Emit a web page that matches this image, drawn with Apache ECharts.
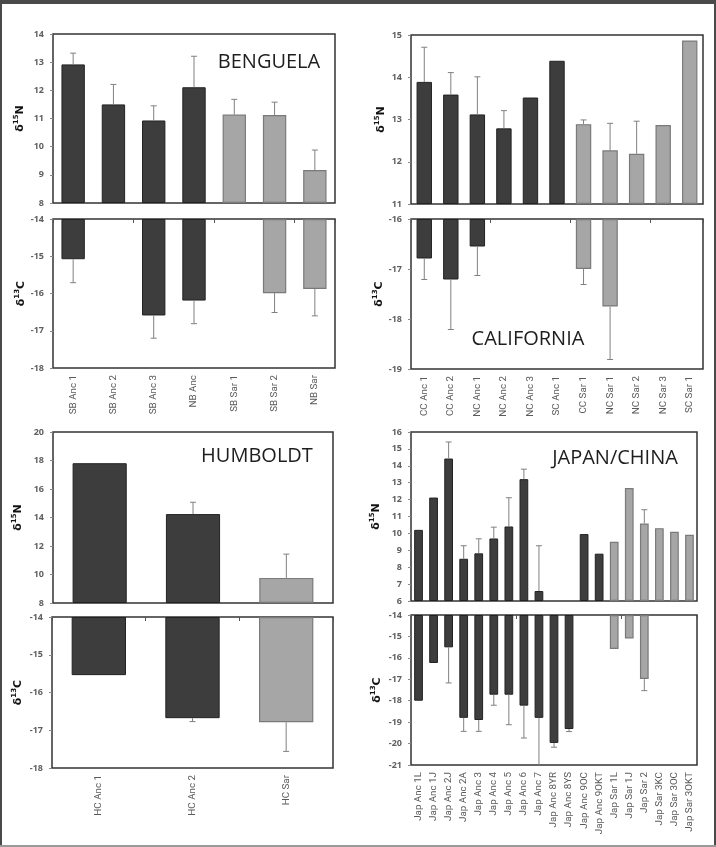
<!DOCTYPE html>
<html>
<head>
<meta charset="utf-8">
<script src="https://cdn.jsdelivr.net/npm/echarts@6/dist/echarts.min.js"></script>
<style>
  html, body { margin: 0; padding: 0; background: #ffffff; }
  #chart { width: 716px; height: 847px; }
</style>
</head>
<body>
<div id="chart"></div>
<script>
// ---- Benguela ----
const benguelaCats = ['SB Anc 1', 'SB Anc 2', 'SB Anc 3', 'NB Anc', 'SB Sar 1', 'SB Sar 2', 'NB Sar'];
const benguelaN    = [12.92, 11.50, 10.93, 12.11, 11.14, 11.12, 9.17];
const benguelaNSd  = [0.40, 0.71, 0.52, 1.10, 0.54, 0.46, 0.71];
const benguelaC    = [-15.08, null, -16.59, -16.19, null, -15.99, -15.88];
const benguelaCSd  = [0.63, null, 0.61, 0.62, null, 0.52, 0.72];

// ---- California ----
const californiaCats = ['CC Anc 1', 'CC Anc 2', 'NC Anc 1', 'NC Anc 2', 'NC Anc 3', 'SC Anc 1',
                        'CC Sar 1', 'NC Sar 1', 'NC Sar 2', 'NC Sar 3', 'SC Sar 1'];
const californiaN    = [13.89, 13.59, 13.12, 12.79, 13.52, 14.39, 12.89, 12.27, 12.19, 12.87, 14.87];
const californiaNSd  = [0.82, 0.52, 0.89, 0.42, null, null, 0.10, 0.64, 0.77, null, null];
const californiaC    = [-16.79, -17.21, -16.55, null, null, null, -17.00, -17.75, null, null, null];
const californiaCSd  = [0.42, 1.00, 0.58, null, null, null, 0.31, 1.06, null, null, null];

// ---- Humboldt ----
const humboldtCats = ['HC Anc 1', 'HC Anc 2', 'HC Sar'];
const humboldtN    = [17.81, 14.24, 9.76];
const humboldtNSd  = [null, 0.83, 1.67];
const humboldtC    = [-15.54, -16.68, -16.79];
const humboldtCSd  = [null, 0.09, 0.77];

// ---- Japan / China ----
const japanCats = ['Jap Anc 1L', 'Jap Anc 1J', 'Jap Anc 2J', 'Jap Anc 2A', 'Jap Anc 3', 'Jap Anc 4',
                   'Jap Anc 5', 'Jap Anc 6', 'Jap Anc 7', 'Jap Anc 8YR', 'Jap Anc 8YS', 'Jap Anc 9OC',
                   'Jap Anc 9OKT', 'Jap Sar 1L', 'Jap Sar 1J', 'Jap Sar 2', 'Jap Sar 3KC', 'Jap Sar 3OC',
                   'Jap Sar 3OKT'];
const japanN   = [10.21, 12.12, 14.43, 8.50, 8.82, 9.70, 10.41, 13.21, 6.59, null, null, 9.96,
                  8.80, 9.51, 12.68, 10.59, 10.31, 10.10, 9.92];
const japanNSd = [null, null, 0.98, 0.77, 0.86, 0.67, 1.70, 0.59, 2.68, null, null, null,
                  null, null, null, 0.81, null, null, null];
const japanC   = [-18.00, -16.24, -15.51, -18.80, -18.90, -17.72, -17.72, -18.23, -18.80, -19.97, -19.32, null,
                  null, -15.59, -15.10, -16.99, null, null, null];
const japanCSd = [null, null, 1.66, 0.63, 0.53, 0.49, 1.40, 1.51, 2.60, 0.20, 0.12, null,
                  null, null, null, 0.54, null, null, null];

// Panel layout and axis ranges
const panels = [
  { cats: benguelaCats, n: benguelaN, nSd: benguelaNSd, c: benguelaC, cSd: benguelaCSd,
    nAxis: { min: 8, max: 14, interval: 1 }, cAxis: { min: -18, max: -14, interval: 1 },
    nBox: { left: 53, top: 34, width: 282, height: 169 },
    cBox: { left: 53, top: 219, width: 282, height: 149 },
    gapN: 25, gapC: 24, title: { text: 'BENGUELA', x: 269, y: 62 } },
  { cats: californiaCats, n: californiaN, nSd: californiaNSd, c: californiaC, cSd: californiaCSd,
    nAxis: { min: 11, max: 15, interval: 1 }, cAxis: { min: -19, max: -16, interval: 1 },
    nBox: { left: 411, top: 35, width: 292, height: 169 },
    cBox: { left: 411, top: 219, width: 292, height: 150 },
    gapN: 22, gapC: 24, title: { text: 'CALIFORNIA', x: 528, y: 339 } },
  { cats: humboldtCats, n: humboldtN, nSd: humboldtNSd, c: humboldtC, cSd: humboldtCSd,
    nAxis: { min: 8, max: 20, interval: 2 }, cAxis: { min: -18, max: -14, interval: 1 },
    nBox: { left: 53, top: 432, width: 280, height: 171 },
    cBox: { left: 52, top: 617, width: 281, height: 151 },
    gapN: 27, gapC: 26, title: { text: 'HUMBOLDT', x: 257, y: 456 } },
  { cats: japanCats, n: japanN, nSd: japanNSd, c: japanC, cSd: japanCSd,
    nAxis: { min: 6, max: 16, interval: 1 }, cAxis: { min: -21, max: -14, interval: 1 },
    nBox: { left: 411, top: 432, width: 286, height: 169 },
    cBox: { left: 411, top: 615, width: 286, height: 150 },
    gapN: 27, gapC: 26, title: { text: 'JAPAN/CHINA', x: 615, y: 458 } }
];

const DARK = { color: '#3d3d3d', borderColor: '#222222', borderWidth: 1 };
const LIGHT = { color: '#a6a6a6', borderColor: '#7a7a7a', borderWidth: 1.2 };
const ERR_COLOR = '#808080';
const TICK_FONT = { fontSize: 9, fontWeight: 'bold', color: '#5f5f5f', fontFamily: 'Open Sans' };

function barStyle(cat) {
  return cat.indexOf('Sar') >= 0 ? LIGHT : DARK;
}

function axisName(mass, element) {
  return '{d|δ}{s|' + mass + '}{d|' + element + '}';
}

// Error bar: vertical whisker from the bar end with a short cap
function renderErr(params, api) {
  const a = api.coord([api.value(0), api.value(1)]);
  const b = api.coord([api.value(0), api.value(2)]);
  const half = 3;
  const st = { stroke: ERR_COLOR, lineWidth: 1 };
  return {
    type: 'group',
    children: [
      { type: 'line', shape: { x1: a[0], y1: a[1], x2: b[0], y2: b[1] }, style: st },
      { type: 'line', shape: { x1: b[0] - half, y1: b[1], x2: b[0] + half, y2: b[1] }, style: st }
    ]
  };
}

const grid = [], xAxis = [], yAxis = [], series = [], graphic = [];

panels.forEach(p => {
  ['n', 'c'].forEach(kind => {
    const isN = kind === 'n';
    const gi = grid.length;
    const box = isN ? p.nBox : p.cBox;
    grid.push(Object.assign({ show: true, borderColor: '#333333', borderWidth: 1.5,
                              backgroundColor: 'transparent', containLabel: false }, box));

    const xi = xAxis.length;
    xAxis.push({
      type: 'category', gridIndex: gi, data: p.cats, position: 'bottom',
      axisLine: { show: false }, axisTick: { show: false },
      axisLabel: isN ? { show: false } : {
        show: true, rotate: 90, interval: 0, margin: 7,
        fontSize: 9.8, color: '#5a5a5a', fontFamily: 'Roboto'
      }
    });
    if (!isN) {
      // category ticks along the top edge, where the carbon axis crosses
      xAxis.push({
        type: 'category', gridIndex: gi, data: p.cats, position: 'top',
        axisLine: { show: false }, axisLabel: { show: false },
        axisTick: { show: true, inside: true, length: 4, lineStyle: { color: '#555555', width: 1 } }
      });
    }

    const ax = isN ? p.nAxis : p.cAxis;
    const yi = yAxis.length;
    yAxis.push({
      type: 'value', gridIndex: gi, min: ax.min, max: ax.max, interval: ax.interval,
      startValue: isN ? ax.min : ax.max,
      splitLine: { show: false },
      axisLine: { show: false },
      axisTick: { show: true, length: 3, lineStyle: { color: '#888888' } },
      axisLabel: Object.assign({ margin: 9 }, TICK_FONT),
      name: isN ? axisName(15, 'N') : axisName(13, 'C'),
      nameLocation: 'middle', nameRotate: 90, nameGap: isN ? p.gapN : p.gapC,
      nameTextStyle: {
        fontFamily: 'DejaVu Sans', fontWeight: 'bold', color: '#111111',
        rich: {
          d: { fontSize: 11, fontWeight: 'bold', color: '#111111', fontFamily: 'DejaVu Sans', lineHeight: 15 },
          s: { fontSize: 7, fontWeight: 'bold', color: '#111111', fontFamily: 'DejaVu Sans', verticalAlign: 'top' }
        }
      }
    });

    const vals = isN ? p.n : p.c;
    const sds = isN ? p.nSd : p.cSd;
    series.push({
      type: 'bar', xAxisIndex: xi, yAxisIndex: yi, barWidth: '58%', clip: true, z: 2,
      silent: true, animation: false,
      data: vals.map((v, i) => v == null ? '-' : { value: v, itemStyle: barStyle(p.cats[i]) })
    });

    const dir = isN ? 1 : -1;
    const errData = [];
    vals.forEach((v, i) => {
      if (v != null && sds[i] != null) errData.push([i, v, v + dir * sds[i]]);
    });
    series.push({
      type: 'custom', xAxisIndex: xi, yAxisIndex: yi, clip: true, z: 3, silent: true,
      animation: false, encode: { x: 0, y: [1, 2] }, renderItem: renderErr, data: errData
    });
  });

  graphic.push({
    type: 'text', x: p.title.x, y: p.title.y, z: 10,
    style: { text: p.title.text, fill: '#1e1e1e', fontSize: 20, fontFamily: 'Open Sans',
             align: 'center', verticalAlign: 'middle' }
  });
});

// outer frame
graphic.push(
  { type: 'rect', shape: { x: 0, y: 0, width: 716, height: 4 }, style: { fill: '#4a4a4a' }, z: 20 },
  { type: 'rect', shape: { x: 0, y: 0, width: 2, height: 847 }, style: { fill: '#4a4a4a' }, z: 20 },
  { type: 'rect', shape: { x: 714, y: 0, width: 2, height: 847 }, style: { fill: '#4a4a4a' }, z: 20 },
  { type: 'rect', shape: { x: 0, y: 845, width: 716, height: 2 }, style: { fill: '#9a9a9a' }, z: 20 }
);

const chart = echarts.init(document.getElementById('chart'), null, { renderer: 'canvas' });
chart.setOption({
  backgroundColor: '#ffffff',
  animation: false,
  grid, xAxis, yAxis, series, graphic
});
</script>
</body>
</html>
